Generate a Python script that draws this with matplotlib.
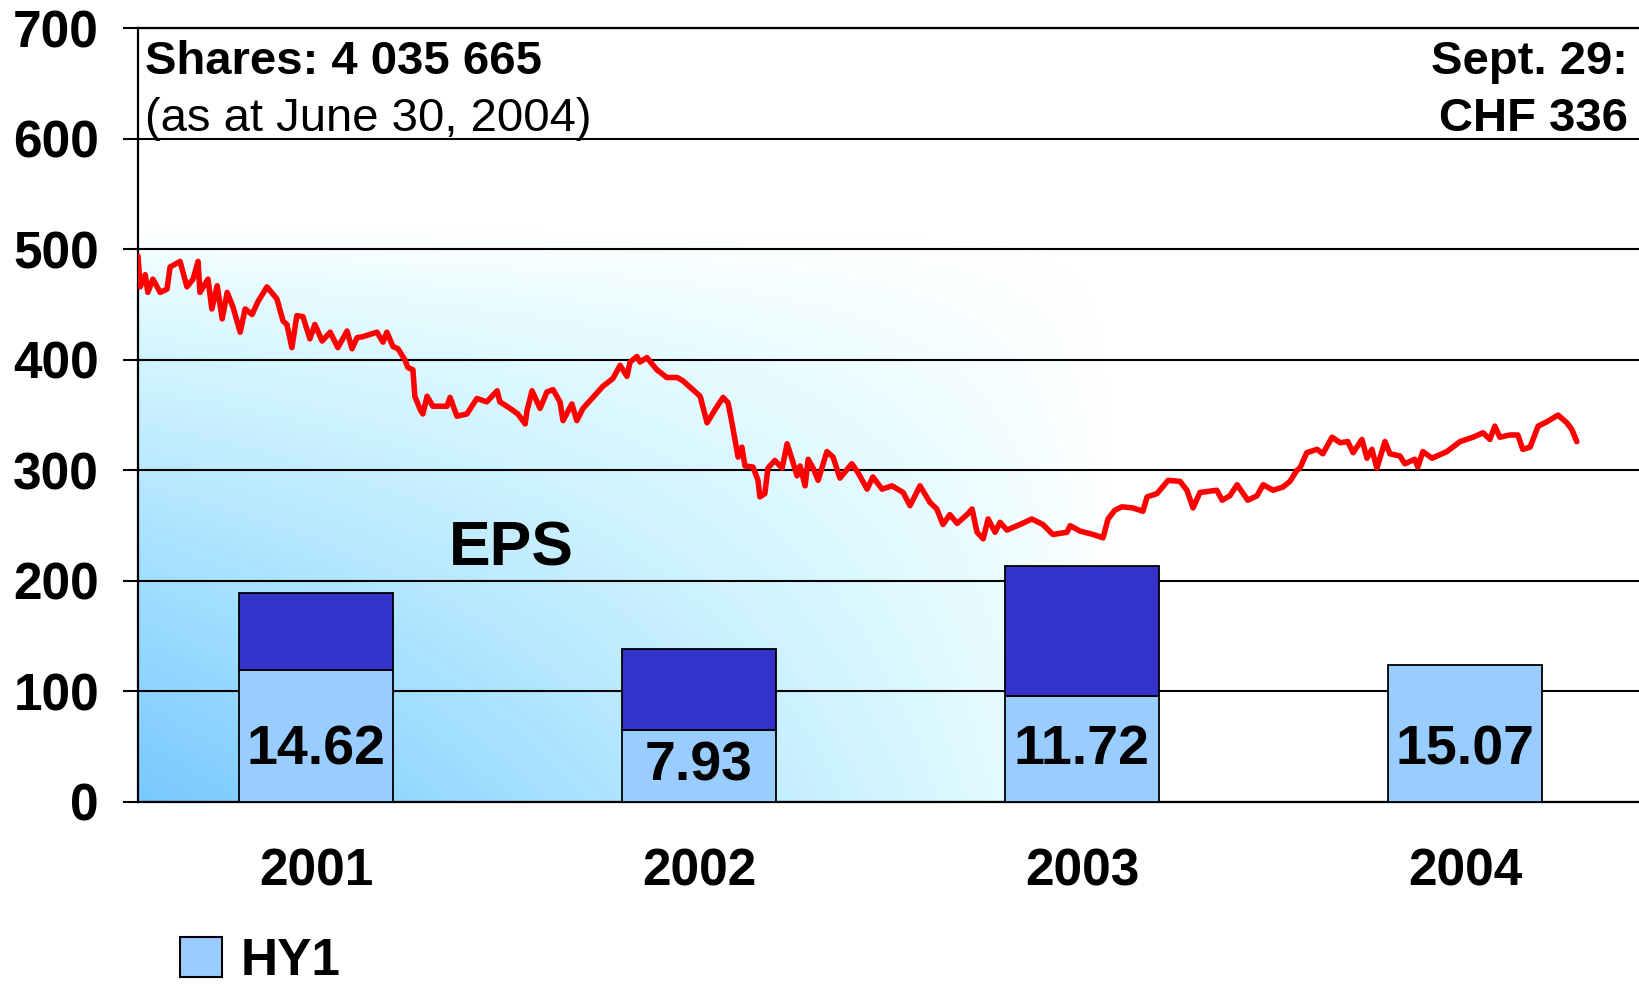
import numpy as np
import matplotlib
matplotlib.use("Agg")
import matplotlib.pyplot as plt
from matplotlib.patches import Patch
from matplotlib.colors import LinearSegmentedColormap

plt.rcParams['font.family'] = ['Liberation Sans', 'DejaVu Sans']

# EPS per half year (CHF)
years = ['2001', '2002', '2003', '2004']
eps_hy1 = [14.62, 7.93, 11.72, 15.07]
eps_hy2 = [8.45, 9.00, 14.35]          # no HY2 yet for 2004

# share price (CHF), decimal year / price
px_t = [
    2001.035, 2001.041, 2001.054, 2001.061, 2001.074, 2001.093, 2001.111, 2001.119, 2001.145, 2001.163,
    2001.179, 2001.192, 2001.197, 2001.218, 2001.228, 2001.242, 2001.255, 2001.268, 2001.283, 2001.302,
    2001.315, 2001.333, 2001.349, 2001.372, 2001.398, 2001.414, 2001.424, 2001.437, 2001.450, 2001.466,
    2001.484, 2001.497, 2001.516, 2001.537, 2001.557, 2001.581, 2001.594, 2001.607, 2001.623, 2001.659,
    2001.675, 2001.685, 2001.701, 2001.714, 2001.732, 2001.740, 2001.753, 2001.758, 2001.772,
    2001.779, 2001.790, 2001.805, 2001.842, 2001.850, 2001.868, 2001.894, 2001.920, 2001.946, 2001.973,
    2001.980, 2002.007, 2002.027, 2002.046, 2002.051, 2002.064, 2002.085, 2002.103, 2002.119, 2002.137,
    2002.145, 2002.168, 2002.181, 2002.197, 2002.223, 2002.249, 2002.275, 2002.294, 2002.312, 2002.320,
    2002.338, 2002.346, 2002.364, 2002.390, 2002.416, 2002.443, 2002.458, 2002.484, 2002.503, 2002.521,
    2002.542, 2002.563, 2002.576, 2002.586, 2002.602, 2002.612, 2002.620, 2002.641, 2002.654, 2002.659,
    2002.672, 2002.680, 2002.698, 2002.717, 2002.730, 2002.743, 2002.756, 2002.764, 2002.777, 2002.785,
    2002.798, 2002.811, 2002.834, 2002.850, 2002.868, 2002.899, 2002.915, 2002.939, 2002.954, 2002.978,
    2003.004, 2003.033, 2003.051, 2003.077, 2003.103, 2003.121, 2003.137, 2003.155, 2003.174, 2003.200,
    2003.213, 2003.226, 2003.242, 2003.255, 2003.273, 2003.286,
    2003.304, 2003.338, 2003.369, 2003.398, 2003.424, 2003.461, 2003.469, 2003.495, 2003.529, 2003.555,
    2003.568, 2003.586, 2003.604, 2003.633, 2003.659, 2003.670, 2003.696, 2003.725, 2003.756, 2003.774,
    2003.790, 2003.808, 2003.852, 2003.866, 2003.886, 2003.905, 2003.933, 2003.957, 2003.973, 2003.999,
    2004.025, 2004.043, 2004.061,
    2004.069, 2004.087, 2004.114, 2004.129, 2004.153, 2004.174, 2004.194, 2004.208, 2004.231, 2004.244,
    2004.257, 2004.270, 2004.291, 2004.304, 2004.330, 2004.343, 2004.369, 2004.377, 2004.390, 2004.414,
    2004.453, 2004.487, 2004.521, 2004.547, 2004.565, 2004.578, 2004.591, 2004.617, 2004.638, 2004.651,
    2004.670, 2004.691, 2004.714, 2004.743, 2004.766, 2004.779, 2004.792,
]
px_val = [
    494, 466, 477, 461, 473, 461, 464, 484, 489, 466,
    473, 489, 461, 473, 446, 467, 437, 461, 448, 425,
    446, 441, 453, 466, 455, 435, 432, 411, 440, 439,
    419, 432, 417, 425, 411, 426, 410, 420, 421, 425,
    416, 425, 412, 410, 400, 393, 391, 367, 355,
    351, 367, 358, 358, 366, 349, 351, 365, 362, 372,
    362, 356, 351, 342, 354, 372, 356, 371, 373, 362,
    345, 360, 345, 356, 366, 376, 383, 395, 385, 398,
    403, 398, 402, 391, 384, 384, 381, 373, 367, 343,
    355, 366, 361, 343, 312, 321, 304, 303, 291, 276,
    279, 302, 309, 302, 324, 310, 295, 304, 286, 310,
    302, 291, 317, 312, 293, 306, 298, 283, 294, 283,
    286, 280, 268, 286, 271, 265, 251, 260, 252, 260,
    265, 244, 238, 256, 244, 253,
    246, 251, 256, 251, 242, 244, 250, 245, 242, 239,
    256, 264, 267, 266, 263, 276, 279, 291, 290, 282,
    266, 280, 282, 273, 277, 287, 273, 277, 287, 282,
    285, 290, 300,
    302, 316, 319, 315, 330, 325, 326, 316, 328, 311,
    319, 302, 326, 315, 313, 306, 310, 303, 317, 311,
    317, 326, 330, 334, 328, 340, 330, 332, 332, 319,
    321, 340, 344, 350, 343, 337, 326,
]

HY1_COL = '#99CCFF'
HY2_COL = '#3333CC'
PRICE_TOP = 700
EPS_TOP = 85.4        # EPS axis scaled against the price axis

fig = plt.figure(figsize=(16.4, 9.89), dpi=100)
ax = fig.add_axes([0.0841, 0.1891, 1 - 0.0841, 0.9715 - 0.1891])
x0, x1 = 2001.035, 2004.957
ax.set_xlim(x0, x1)
ax.set_ylim(0, PRICE_TOP)

# background gradient, strongest in the lower left corner
gx = np.linspace(0, 1, 400)
gy = np.linspace(0, 1, 300)
U, V = np.meshgrid(gx, gy)
t = 1 - (1 - U) * (1 - V)
cmap = LinearSegmentedColormap.from_list(
    'bg', [(0, '#78C8FF'), (0.45, '#A8E2FF'), (0.8, '#D6F6FF'),
           (0.93, '#EBFDFF'), (1, '#FFFFFF')])
ax.imshow(cmap(t), extent=[x0, 2003.6, 0, 520], origin='lower',
          aspect='auto', zorder=0, interpolation='bilinear')

ax.set_axisbelow(True)
ax.set_yticks(range(0, PRICE_TOP + 1, 100))
ax.grid(axis='y', color='black', linewidth=1.5)
ax.tick_params(axis='y', length=11, width=1.5, pad=17, labelsize=37)
for lab in ax.get_yticklabels():
    lab.set_fontweight('bold')
mid = [int(y) + 0.5 for y in years]
ax.set_xticks(mid)
ax.set_xticklabels(years, fontsize=37, fontweight='bold')
ax.tick_params(axis='x', length=0, pad=33)
ax.spines['right'].set_visible(False)
for s in ['left', 'top', 'bottom']:
    ax.spines[s].set_linewidth(1.6)

# EPS bars on their own scale
ax_eps = ax.twinx()
ax_eps.set_ylim(0, EPS_TOP)
ax_eps.set_yticks([])
for s in ax_eps.spines.values():
    s.set_visible(False)
ax_eps.bar(mid, eps_hy1, width=0.4, color=HY1_COL, edgecolor='black', linewidth=1.3)
ax_eps.bar(mid[:len(eps_hy2)], eps_hy2, bottom=eps_hy1[:len(eps_hy2)], width=0.4,
           color=HY2_COL, edgecolor='black', linewidth=1.3)
for xm, v in zip(mid, eps_hy1):
    ax_eps.text(xm, min(5.7, v - 4.0), f'{v:.2f}', ha='center', va='center',
                fontsize=40, fontweight='bold')

# share price line
ax_px = ax.twinx()
ax_px.set_ylim(0, PRICE_TOP)
ax_px.set_yticks([])
for s in ax_px.spines.values():
    s.set_visible(False)
ax_px.plot(px_t, px_val, color='#FF0000', linewidth=4.0,
           solid_joinstyle='round', solid_capstyle='round')

fig.text(0.0884, 0.9252, 'Shares: 4 035 665', fontsize=34, fontweight='bold', va='baseline')
fig.text(0.0884, 0.8675, '(as at June 30, 2004)', fontsize=34, va='baseline')
fig.text(0.9927, 0.9252, 'Sept. 29:', fontsize=34, fontweight='bold', va='baseline', ha='right')
fig.text(0.9927, 0.8675, 'CHF 336', fontsize=34, fontweight='bold', va='baseline', ha='right')
fig.text(0.312, 0.4287, 'EPS', fontsize=45, fontweight='bold', va='baseline', ha='center')

fig.legend([Patch(facecolor=HY1_COL, edgecolor='black', linewidth=1.5)], ['HY1'],
           loc='lower left', bbox_to_anchor=(0.1098, 0.003), frameon=False,
           prop={'size': 37, 'weight': 'bold'}, handlelength=0.82, handleheight=0.82,
           handletextpad=0.35, borderpad=0, borderaxespad=0)

fig.savefig('out.png', dpi=100)
